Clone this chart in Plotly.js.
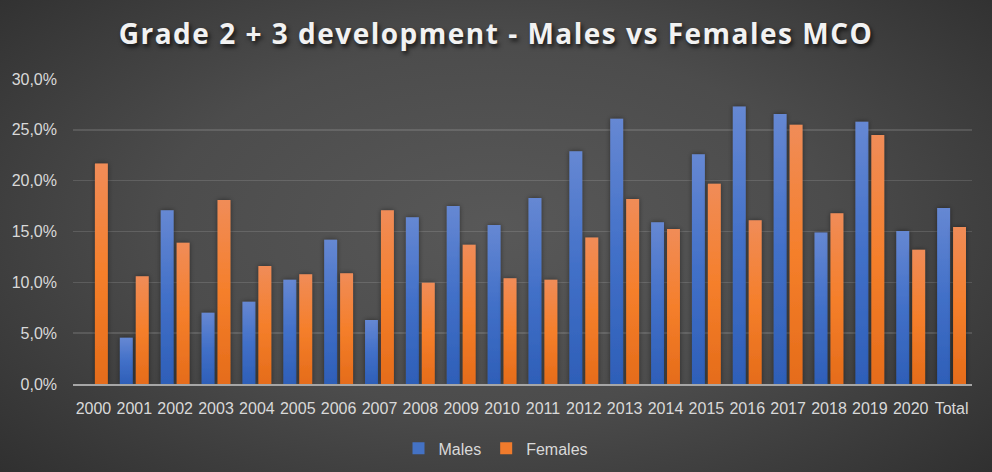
<!DOCTYPE html>
<html><head><meta charset="utf-8">
<script src="https://cdn.plot.ly/plotly-3.0.1.min.js"></script>
<style>
html,body{margin:0;padding:0;width:992px;height:472px;overflow:hidden;
background:radial-gradient(ellipse 75% 85% at 50% 48%, #585858 0%, #4c4c4c 45%, #2a2a2a 100%);}
#chart{width:992px;height:472px;}
</style>
</head><body><div id="chart"></div>
<script>
const categories = ["2000","2001","2002","2003","2004","2005","2006","2007","2008","2009","2010","2011","2012","2013","2014","2015","2016","2017","2018","2019","2020","Total"];
const males   = [null, 4.55, 17.1, 7.0, 8.1, 10.25, 14.2, 6.3, 16.4, 17.5, 15.65, 18.3, 22.9, 26.1, 15.9, 22.6, 27.3, 26.55, 14.9, 25.8, 15.05, 17.3];
const females = [21.7, 10.6, 13.9, 18.1, 11.6, 10.8, 10.9, 17.1, 9.95, 13.7, 10.4, 10.25, 14.4, 18.2, 15.25, 19.7, 16.1, 25.5, 16.8, 24.5, 13.2, 15.45];
const seriesNames = ["Males", "Females"];
const titleText = "Grade 2 + 3 development - Males vs Females MCO";

const tickFont = {family: "Liberation Sans, Arial, sans-serif", size: 16, color: "#d9d9d9"};

const data = [
  {type: "bar", name: seriesNames[0], x: categories, y: males,
   marker: {color: "#4472c4"}, hoverinfo: "x+y"},
  {type: "bar", name: seriesNames[1], x: categories, y: females,
   marker: {color: "#f07b2c"}, hoverinfo: "x+y"}
];

const layout = {
  width: 992, height: 472,
  paper_bgcolor: "rgba(0,0,0,0)", plot_bgcolor: "rgba(0,0,0,0)",
  margin: {l: 73, r: 20, t: 79, b: 88},
  separators: ",.",
  barmode: "group", bargap: 0.22, bargroupgap: 0.19,
  title: {text: titleText, x: 0.5, xref: "container", xanchor: "center", y: 0.927, yref: "container", yanchor: "middle",
    font: {family: "Open Sans, sans-serif", size: 28, weight: 700, color: "#f2f2f2",
      shadow: "2px 3px 4px rgba(0,0,0,0.7)"}},
  xaxis: {type: "category", tickfont: tickFont, showgrid: false, ticks: "",
    showline: true, linecolor: "#a6a6a6", linewidth: 2, ticklabelstandoff: 9, fixedrange: true},
  yaxis: {range: [0, 30], dtick: 5, tickformat: ".1f", ticksuffix: "%", tickfont: tickFont,
    showgrid: true, gridcolor: "rgba(255,255,255,0.13)", gridwidth: 1.5, zeroline: false,
    ticks: "", ticklabelstandoff: 15, fixedrange: true},
  showlegend: true,
  legend: {orientation: "h", xref: "container", x: 0.5, xanchor: "center", yref: "container", y: 0.05, yanchor: "middle",
    font: {family: "Liberation Sans, Arial, sans-serif", size: 16, color: "#d9d9d9"},
    bgcolor: "rgba(0,0,0,0)", itemwidth: 30, traceorder: "normal"}
};

Plotly.newPlot("chart", data, layout, {displayModeBar: false, staticPlot: true}).then(function (gd) {
  const NS = "http://www.w3.org/2000/svg";
  const svg = gd.querySelector(".main-svg");
  let defs = svg.querySelector("defs");
  if (!defs) { defs = document.createElementNS(NS, "defs"); svg.insertBefore(defs, svg.firstChild); }
  function grad(id, stops) {
    const g = document.createElementNS(NS, "linearGradient");
    g.setAttribute("id", id); g.setAttribute("x1", "0"); g.setAttribute("y1", "0");
    g.setAttribute("x2", "0"); g.setAttribute("y2", "1");
    stops.forEach(function (s) {
      const st = document.createElementNS(NS, "stop");
      st.setAttribute("offset", s[0]); st.setAttribute("stop-color", s[1]);
      g.appendChild(st);
    });
    defs.appendChild(g);
  }
  grad("gradBlue", [["0", "#6688d3"], ["0.5", "#4270c8"], ["1", "#2e5fb8"]]);
  grad("gradOrange", [["0", "#f08c58"], ["0.5", "#f57f2b"], ["1", "#e56c1a"]]);
  const f = document.createElementNS(NS, "filter");
  f.setAttribute("id", "barShadow"); f.setAttribute("x", "-50%"); f.setAttribute("y", "-10%");
  f.setAttribute("width", "200%"); f.setAttribute("height", "120%");
  const ds = document.createElementNS(NS, "feDropShadow");
  ds.setAttribute("dx", "0"); ds.setAttribute("dy", "0"); ds.setAttribute("stdDeviation", "2.5");
  ds.setAttribute("flood-color", "#000"); ds.setAttribute("flood-opacity", "0.45");
  f.appendChild(ds); defs.appendChild(f);
  const traces = gd.querySelectorAll(".barlayer .trace.bars");
  traces.forEach(function (t, i) {
    t.querySelectorAll(".point path").forEach(function (p) {
      p.style.fill = i === 0 ? "url(#gradBlue)" : "url(#gradOrange)";
      p.style.filter = "url(#barShadow)";
    });
  });
  const tt = gd.querySelector(".g-gtitle text");
  if (tt) tt.style.letterSpacing = "1.5px";
});
</script>
</body></html>
